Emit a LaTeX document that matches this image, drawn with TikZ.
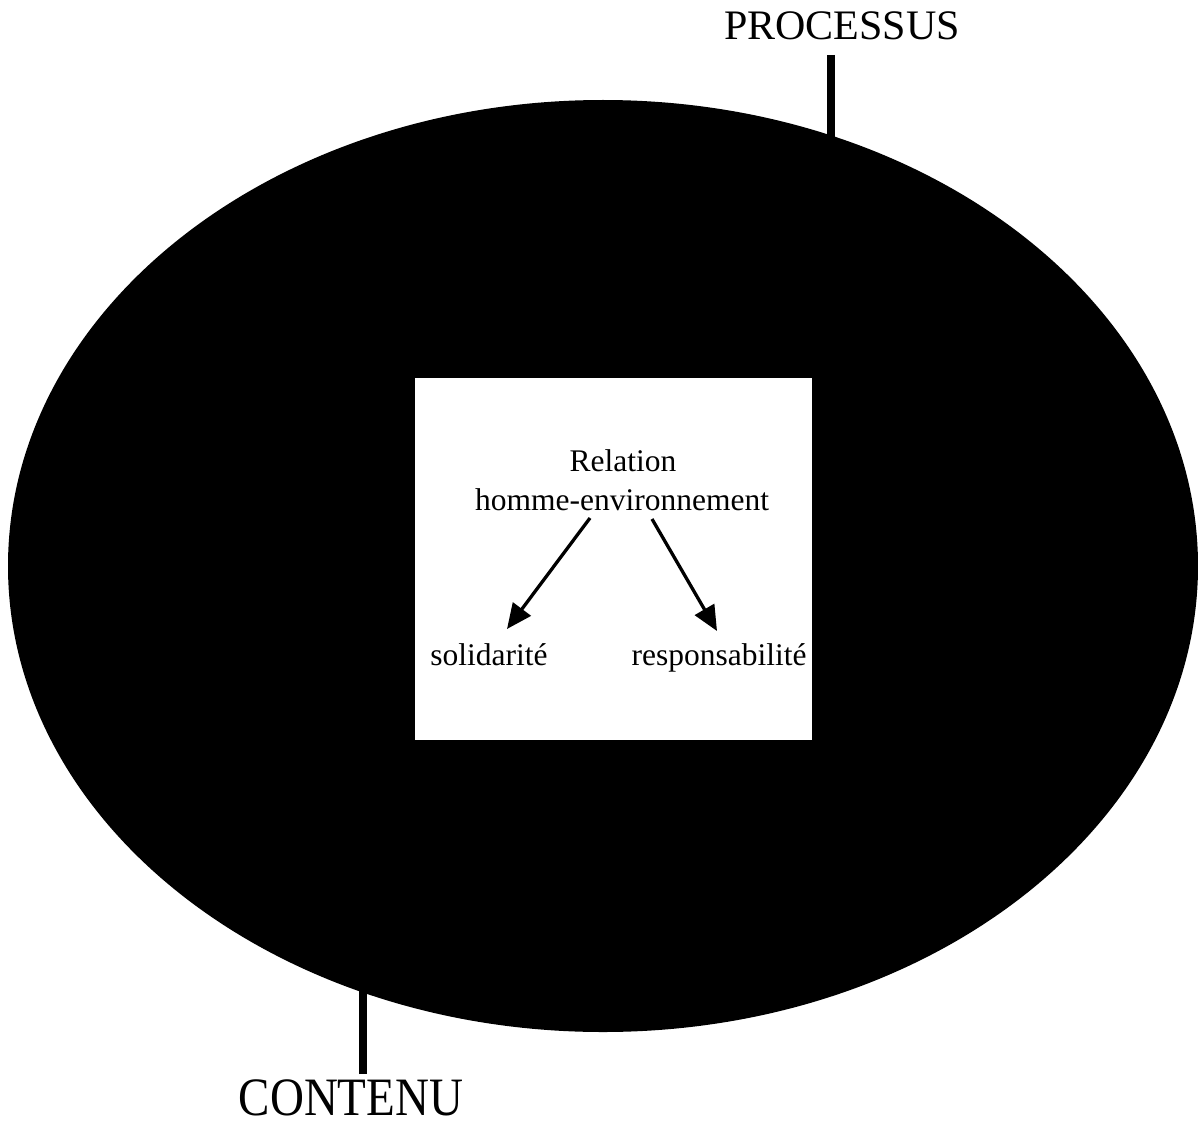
\documentclass[tikz,border=0pt]{standalone}
\usepackage{fontspec}
\setmainfont{Liberation Serif}
\usetikzlibrary{arrows.meta}
\begin{document}
\begin{tikzpicture}[x=1pt,y=-1pt,
  lbl/.style={inner sep=0pt, font=\fontsize{31.5}{36}\selectfont},
  big/.style={inner sep=0pt, anchor=base},
  link/.style={line width=3.3pt, -{Triangle[length=25pt,width=22pt]}},
  stem/.style={line width=7.5pt}]
\useasboundingbox (0,0) rectangle (1198,1126);
\fill[white] (0,0) rectangle (1198,1126);
% black ellipse
\fill[black] (603,566) ellipse [x radius=595, y radius=466];
% white square
\node[fill=white, minimum width=397pt, minimum height=362pt, inner sep=0pt] (box) at (613.5,559) {};
% texts
\node[lbl, anchor=base] (rel) at (623,471) {Relation};
\node[lbl, anchor=base] (hom) at (622,510) {homme-environnement};
\node[lbl, anchor=base] (sol) at (489,665) {solidarité};
\node[lbl, anchor=base] (resp) at (719,665) {responsabilité};
% arrows
\coordinate (a1s) at (590,518);
\coordinate (a1e) at (507,629);
\coordinate (a2s) at (652,519);
\coordinate (a2e) at (717,631);
\draw[link] (a1s) -- (a1e);
\draw[link] (a2s) -- (a2e);
% PROCESSUS
\node[big, font=\fontsize{42}{46}\selectfont] (proc) at (842,40) {PROCESSUS};
\coordinate (p1) at (831,55);
\coordinate (p2) at (831,140);
\draw[stem] (p1) -- (p2);
% CONTENU
\node[big, font=\fontsize{47}{50}\selectfont] (cont) at (351,1115) {\scalebox{1}[1.15]{CONTENU}};
\coordinate (c1) at (363,1074);
\coordinate (c2) at (363,985);
\draw[stem] (c1) -- (c2);
\end{tikzpicture}
\end{document}
